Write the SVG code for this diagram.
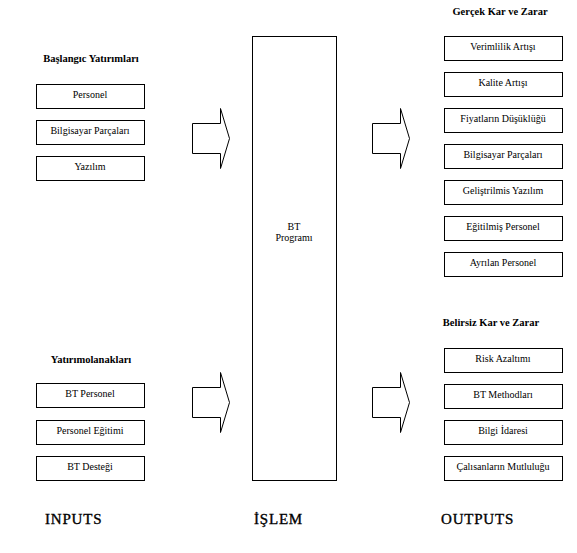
<svg xmlns="http://www.w3.org/2000/svg" width="577" height="553" viewBox="0 0 577 553">
<style>
.box{fill:#fff;stroke:#000;stroke-width:1}
.lbl{font-family:"Liberation Serif","Times New Roman",serif;font-size:10px;fill:#000;text-anchor:middle}
.ttl{font-family:"Liberation Serif","Times New Roman",serif;font-size:10.5px;font-weight:bold;fill:#000;text-anchor:middle}
.foot{font-family:"Liberation Serif","Times New Roman",serif;font-size:15px;fill:#000;stroke:#000;stroke-width:0.35;letter-spacing:0.8px}
.arr{fill:#fff;stroke:#000;stroke-width:1}
</style>
<rect width="577" height="553" fill="#fff"/>
<defs>
<path id="blk" d="M0,15 H28 V0 L37,30 L28,60 V45 H0 Z"/>
</defs>

<text class="ttl" x="91" y="62">Başlangıc Yatırımları</text>
<text class="ttl" x="91" y="363">Yatırımolanakları</text>
<text class="ttl" x="500" y="15">Gerçek Kar ve Zarar</text>
<text class="ttl" x="491" y="326">Belirsiz Kar ve Zarar</text>

<g id="in-personel"><rect class="box" x="36.5" y="84.5" width="108" height="24"/><text class="lbl" x="90" y="98">Personel</text></g>
<g id="in-bilgisayar"><rect class="box" x="36.5" y="120.5" width="108" height="24"/><text class="lbl" x="90" y="134">Bilgisayar Parçaları</text></g>
<g id="in-yazilim"><rect class="box" x="36.5" y="156.5" width="108" height="24"/><text class="lbl" x="90" y="170">Yazılım</text></g>

<g id="in-bt-personel"><rect class="box" x="36.5" y="383.5" width="108" height="24"/><text class="lbl" x="90" y="397">BT Personel</text></g>
<g id="in-personel-egitimi"><rect class="box" x="36.5" y="420.5" width="108" height="24"/><text class="lbl" x="90" y="434">Personel Eğitimi</text></g>
<g id="in-bt-destegi"><rect class="box" x="36.5" y="456.5" width="108" height="24"/><text class="lbl" x="90" y="470">BT Desteği</text></g>

<g id="bt-programi"><rect class="box" x="252.5" y="36.5" width="84" height="444"/><text class="lbl" x="294" y="230">BT</text><text class="lbl" x="294" y="241">Programı</text></g>

<g id="out-verimlilik"><rect class="box" x="444.5" y="36.5" width="118" height="24"/><text class="lbl" x="503" y="50">Verimlilik Artışı</text></g>
<g id="out-kalite"><rect class="box" x="444.5" y="72.5" width="118" height="24"/><text class="lbl" x="503" y="86">Kalite Artışı</text></g>
<g id="out-fiyat"><rect class="box" x="444.5" y="108.5" width="118" height="24"/><text class="lbl" x="503" y="122">Fiyatların Düşüklüğü</text></g>
<g id="out-bilgisayar"><rect class="box" x="444.5" y="144.5" width="118" height="24"/><text class="lbl" x="503" y="158">Bilgisayar Parçaları</text></g>
<g id="out-yazilim"><rect class="box" x="444.5" y="180.5" width="118" height="24"/><text class="lbl" x="503" y="194">Geliştrilmis Yazılım</text></g>
<g id="out-egitilmis"><rect class="box" x="444.5" y="216.5" width="118" height="24"/><text class="lbl" x="503" y="230">Eğitilmiş Personel</text></g>
<g id="out-ayrilan"><rect class="box" x="444.5" y="252.5" width="118" height="24"/><text class="lbl" x="503" y="266">Ayrılan Personel</text></g>

<g id="out-risk"><rect class="box" x="444.5" y="348.5" width="118" height="24"/><text class="lbl" x="503" y="362">Risk Azaltımı</text></g>
<g id="out-methodlar"><rect class="box" x="444.5" y="384.5" width="118" height="24"/><text class="lbl" x="503" y="398">BT Methodları</text></g>
<g id="out-bilgi"><rect class="box" x="444.5" y="420.5" width="118" height="24"/><text class="lbl" x="503" y="434">Bilgi İdaresi</text></g>
<g id="out-mutluluk"><rect class="box" x="444.5" y="456.5" width="118" height="24"/><text class="lbl" x="503" y="470">Çalısanların Mutluluğu</text></g>

<g id="connectors">
<use href="#blk" class="arr" x="192.5" y="108.5"/>
<use href="#blk" class="arr" x="192.5" y="372.5"/>
<use href="#blk" class="arr" x="372.5" y="108.5"/>
<use href="#blk" class="arr" x="372.5" y="372.5"/>
</g>

<text class="foot" x="45" y="524">INPUTS</text>
<text class="foot" x="254" y="524">İŞLEM</text>
<text class="foot" x="441" y="524">OUTPUTS</text>
</svg>
